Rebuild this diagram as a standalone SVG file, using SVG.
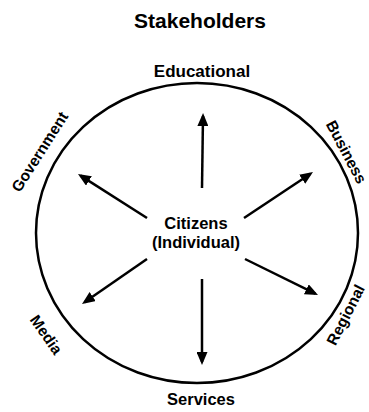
<svg xmlns="http://www.w3.org/2000/svg" width="369" height="412" viewBox="0 0 369 412">
<style>
text{font-family:"Liberation Sans",Arial,sans-serif;font-weight:bold;fill:#000;text-anchor:middle}
.arrow{stroke:#000;stroke-width:2.5;fill:none;marker-end:url(#ah)}
.ring{stroke:#000;stroke-width:2.5;fill:none}
.lbl{font-size:15.5px}
</style>
<defs>
<marker id="ah" markerUnits="userSpaceOnUse" markerWidth="14" markerHeight="11" refX="10" refY="5.5" orient="auto">
<path d="M0,0 L13,5.5 L0,11 z" fill="#000"/>
</marker>
</defs>
<text x="200" y="28" style="font-size:21px">Stakeholders</text>
<g id="ring"><ellipse class="ring" cx="197" cy="233" rx="161" ry="150"/></g>
<g id="citizens"><text x="196" y="229" style="font-size:16.5px">Citizens</text><text x="196" y="248" style="font-size:16.5px">(Individual)</text></g>
<g id="educational"><text x="202" y="77" style="font-size:17px">Educational</text></g>
<g id="services"><text x="201" y="405" style="font-size:16.5px">Services</text></g>
<g id="government"><text class="lbl" transform="translate(40,152) rotate(-57.5)" y="5">Government</text></g>
<g id="business"><text class="lbl" transform="translate(346,152) rotate(62)" y="5">Business</text></g>
<g id="regional"><text class="lbl" transform="translate(346,315) rotate(-63)" y="5">Regional</text></g>
<g id="media"><text class="lbl" transform="translate(46,335) rotate(55)" y="5">Media</text></g>
<g id="connectors">
<line class="arrow" x1="202" y1="188" x2="203" y2="116"/>
<line class="arrow" x1="202" y1="279" x2="202" y2="362"/>
<line class="arrow" x1="147" y1="218" x2="80.5" y2="175.6"/>
<line class="arrow" x1="147" y1="259" x2="84.5" y2="302.3"/>
<line class="arrow" x1="244" y1="218" x2="310.5" y2="173.7"/>
<line class="arrow" x1="245" y1="259" x2="315.3" y2="293.7"/>
</g>
</svg>
